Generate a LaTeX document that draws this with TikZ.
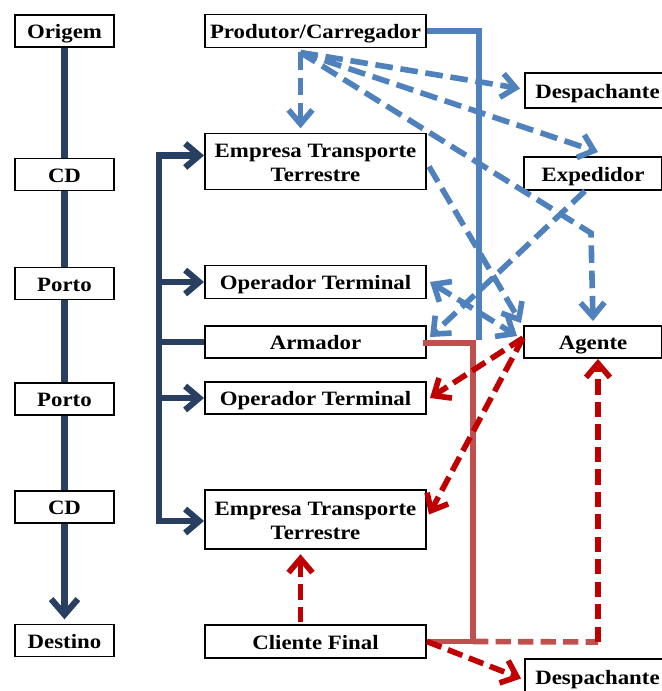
\documentclass[tikz,border=0pt]{standalone}
\usepackage{fontspec}
\setmainfont{Liberation Serif}[FakeStretch=1.12]
\usetikzlibrary{arrows.meta,calc}
\definecolor{navy}{HTML}{283F62}
\definecolor{azul}{HTML}{4F81BD}
\definecolor{vermelho}{HTML}{C0504D}
\definecolor{escuro}{HTML}{C00000}

\begin{document}
\begin{tikzpicture}[x=0.025cm,y=-0.025cm]
                \tikzset{>={Straight Barb[length=10pt,width=17pt]},
                    caixa/.style={draw,line width=1.4pt,fill=white,align=center,inner sep=0pt,
                        text height=14pt,text depth=3pt,
                        font=\fontsize{14.5}{17}\selectfont\bfseries},
                    duas/.style={text height=31pt,text depth=3pt},
                    esq/.style={caixa,minimum width=2.475cm,minimum height=0.8cm},
                    meio/.style={caixa,minimum width=5.525cm,minimum height=0.825cm},
                    dir/.style={caixa,minimum width=3.45cm,minimum height=0.825cm},
                    fluxo/.style={navy,line width=4.4pt},
                    info/.style={azul,line width=4pt,dash pattern=on 12.5pt off 5.5pt},
                    pedido/.style={escuro,line width=4pt,dash pattern=on 11pt off 5pt}}
                \useasboundingbox (0,0) rectangle (662,691);

                % cadeia fisica
                \node[esq] (origem) at (64.5,31) {Origem};
                \node[esq] (cd1) at (64.5,174.5) {CD};
                \node[esq] (porto1) at (64.5,283.5) {Porto};
                \node[esq] (porto2) at (64.5,399) {Porto};
                \node[esq] (cd2) at (64.5,507) {CD};
                \node[esq] (destino) at (64.5,640.5) {Destino};

                % agentes
                \node[meio] (prod) at (315.5,31) {Produtor/Carregador};
                \node[meio,duas,minimum height=1.4cm] (emp1) at (315.5,161.5) {Empresa Transporte\\Terrestre};
                \node[meio] (opterm1) at (315.5,282) {Operador Terminal};
                \node[meio,minimum height=0.8cm] (armador) at (315.5,342) {Armador};
                \node[meio,minimum height=0.8cm] (opterm2) at (315.5,398) {Operador Terminal};
                \node[meio,duas,minimum height=1.475cm] (emp2) at (315.5,519.5) {Empresa Transporte\\Terrestre};
                \node[meio] (cliente) at (315.5,641.5) {Cliente Final};

                \node[dir,minimum width=3.625cm,minimum height=0.875cm] (desp1) at (597.5,90.5) {Despachante};
                \node[dir] (exped) at (593,173.5) {Expedidor};
                \node[dir,minimum height=0.8cm] (agente) at (593,342) {Agente};
                \node[dir,minimum width=3.625cm,minimum height=0.875cm] (desp2) at (597.5,676.5) {Despachante};

                % fluxo fisico
                \draw[fluxo] (origem) -- (cd1) (cd1) -- (porto1) (porto1) -- (porto2) (porto2) -- (cd2);
                \draw[fluxo,->,>={Straight Barb[length=11pt,width=19pt]},shorten >=3pt] (cd2) -- (destino);

                \coordinate (bt) at ($(emp1.west)+(-45,-6)$);
                \coordinate (bb) at ($(emp2.west)+(-45,1.5)$);
                \draw[fluxo,<->] (bt -| emp1.west) -- (bt) -- (bb) -- (bb -| emp2.west);
                \draw[fluxo,->] (bt |- opterm1.west) -- (opterm1.west);
                \draw[fluxo] (bt |- armador.west) -- (armador.west);
                \draw[fluxo,->] (bt |- opterm2.west) -- (opterm2.west);

                % linhas cheias
                \draw[azul,line width=4pt] (prod.east) -| ($(armador.east)+(52,-2)$);
                \draw[vermelho,line width=4.2pt] ($(armador.east)+(-4,1)$) -| ($(cliente.east)+(46,0)$) -- (cliente.east);

                % informacao do produtor
                \coordinate (ps) at ($(prod.south)+(-15,4)$);
                \draw[info,->,shorten >=3pt] (ps) -- (ps |- emp1.north);
                \draw[info,->] (ps) -- ($(desp1.west)+(-4,-2)$);
                \draw[info,->] (ps) -- ($(exped.north)+(5,-4)$);
                \draw[info,->] (ps) -- ($(agente.north)+(-2,-92)$) -- ($(agente.north)+(0,-4)$);
                \draw[info,->] ($(emp1.east)+(2,5)$) -- ($(agente.north west)+(-2,-2)$);
                \draw[info,->] ($(exped.south)+(-8,0)$) -- ($(armador.east)+(3,-5)$);
                \draw[info,<->] ($(opterm1.east)+(3,0)$) -- ($(agente.west)+(-6,-6)$);

                % pedidos do cliente
                \coordinate (pa) at ($(agente.west)+(0,-4)$);
                \coordinate (canto) at ($(agente.south)+(5,283)$);
                \draw[pedido,->] (pa) -- ($(opterm2.east)+(3,0)$);
                \draw[pedido,->] (pa) -- ($(emp2.east)+(2,-5)$);
                \draw[pedido,->,shorten >=3pt] ($(cliente.north)+(-15,-2)$) -- ($(emp2.south)+(-15,0)$);
                \draw[pedido,->] (cliente.east) -- ($(desp2.west)+(-3,2)$);
                \draw[vermelho,line width=4pt,dash pattern=on 11pt off 5pt] ($(cliente.east)+(46,0)$) -- (canto);
                \draw[pedido,->] (canto) -- ($(agente.south)+(5,0)$);
            \end{tikzpicture}
\end{document}
